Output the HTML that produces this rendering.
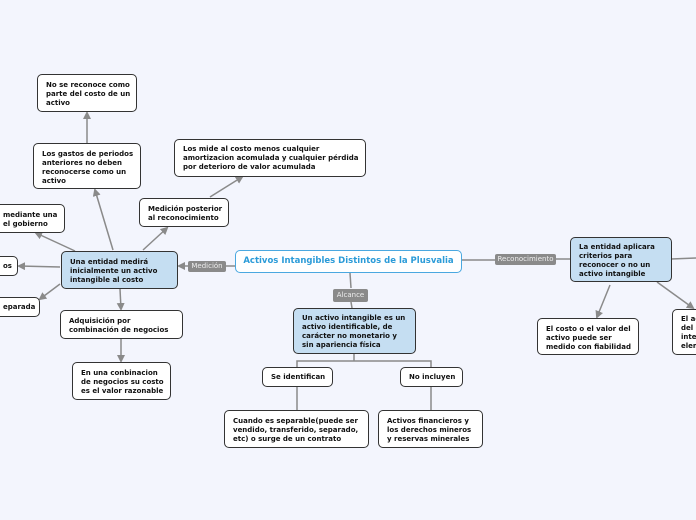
<!DOCTYPE html>
<html><head><meta charset="utf-8"><style>
body{margin:0;width:696px;height:520px;background:#f3f5fd;overflow:hidden;position:relative;font-family:"DejaVu Sans","Liberation Sans",sans-serif}
.n{position:absolute;box-sizing:border-box;background:#fff;border:1px solid #333;border-radius:5px;font-size:7px;font-weight:bold;line-height:9px;color:#111;padding:5px 8px;white-space:nowrap}
.b{background:#c5def2}
.l{position:absolute;background:#8a8a8a;color:#eee;font-size:7px;border-radius:2px;text-align:center;line-height:11px}
svg{position:absolute;left:0;top:0}
</style></head><body>
<svg width="696" height="520"><defs><marker id="a" markerWidth="8" markerHeight="8" refX="6" refY="4" orient="auto" markerUnits="userSpaceOnUse"><path d="M0,0L8,4L0,8z" fill="#8a8a8a"/></marker></defs>
<g stroke="#8a8a8a" stroke-width="1.5" fill="none">
<line x1="235" y1="266" x2="226" y2="266"/>
<line x1="188" y1="266" x2="179" y2="266" marker-end="url(#a)"/>
<line x1="113" y1="250" x2="95" y2="190" marker-end="url(#a)"/>
<line x1="87" y1="143" x2="87" y2="113" marker-end="url(#a)"/>
<line x1="75" y1="251" x2="36" y2="233" marker-end="url(#a)"/>
<line x1="60" y1="267" x2="19" y2="266" marker-end="url(#a)"/>
<line x1="60" y1="284" x2="40" y2="299" marker-end="url(#a)"/>
<line x1="120" y1="289" x2="121" y2="309" marker-end="url(#a)"/>
<line x1="121" y1="339" x2="121" y2="361" marker-end="url(#a)"/>
<line x1="143" y1="250" x2="167" y2="228" marker-end="url(#a)"/>
<line x1="210" y1="197" x2="242" y2="177" marker-end="url(#a)"/>
<line x1="350" y1="273" x2="351" y2="288"/>
<line x1="351" y1="302" x2="352" y2="308"/>
<polyline points="297,367 297,361 431,361 431,367"/>
<line x1="354" y1="354" x2="354" y2="361"/>
<line x1="297" y1="386" x2="297" y2="410"/>
<line x1="431" y1="386" x2="431" y2="410"/>
<line x1="461" y1="260" x2="495" y2="260"/>
<line x1="556" y1="259" x2="570" y2="259"/>
<line x1="610" y1="285" x2="597" y2="317" marker-end="url(#a)"/>
<line x1="657" y1="282" x2="693" y2="308" marker-end="url(#a)"/>
<line x1="671" y1="259" x2="696" y2="258"/>
</g></svg>
<div class="n" style="left:235px;top:250px;width:227px;height:23px;border-color:#4aa8e0;color:#2b9bd8;font-size:8.5px;text-align:center;padding:6px 0">Activos Intangibles Distintos de la Plusvalia</div>
<div class="l" style="left:188px;top:261px;width:38px">Medición</div>
<div class="l" style="left:333px;top:289px;width:35px;height:13px;line-height:13px">Alcance</div>
<div class="l" style="left:495px;top:254px;width:61px">Reconocimiento</div>
<div class="n b" style="left:61px;top:251px;width:117px;height:38px;padding-top:6px">Una entidad medirá<br>inicialmente un activo<br>intangible al costo</div>
<div class="n" style="left:-6px;top:204px;width:71px;height:29px;padding-top:6px">mediante una<br>el gobierno</div>
<div class="n" style="left:-6px;top:256px;width:24px;height:20px">os</div>
<div class="n" style="left:-6px;top:297px;width:46px;height:20px">eparada</div>
<div class="n" style="left:60px;top:310px;width:123px;height:29px;padding-top:6px">Adquisición por<br>combinación de negocios</div>
<div class="n" style="left:72px;top:362px;width:99px;height:38px;padding-top:6px">En una conbinacion<br>de negocios su costo<br>es el valor razonable</div>
<div class="n" style="left:33px;top:143px;width:108px;height:46px;padding-top:6px">Los gastos de periodos<br>anteriores no deben<br>reconocerse como un<br>activo</div>
<div class="n" style="left:37px;top:74px;width:100px;height:38px;padding-top:6px">No se reconoce como<br>parte del costo de un<br>activo</div>
<div class="n" style="left:139px;top:198px;width:90px;height:29px;padding-top:6px">Medición posterior<br>al reconocimiento</div>
<div class="n" style="left:174px;top:139px;width:192px;height:38px;padding-top:5px">Los mide al costo menos cualquier<br>amortizacion acomulada y cualquier pérdida<br>por deterioro de valor acumulada</div>
<div class="n b" style="left:293px;top:308px;width:123px;height:46px;padding-top:5px">Un activo intangible es un<br>activo identificable, de<br>carácter no monetario y<br>sin apariencia física</div>
<div class="n" style="left:262px;top:367px;width:71px;height:20px;text-align:center">Se identifican</div>
<div class="n" style="left:400px;top:367px;width:63px;height:20px;text-align:center">No incluyen</div>
<div class="n" style="left:224px;top:410px;width:145px;height:38px;padding-top:6px">Cuando es separable(puede ser<br>vendido, transferido, separado,<br>etc) o surge de un contrato</div>
<div class="n" style="left:378px;top:410px;width:105px;height:38px;padding-top:6px">Activos financieros y<br>los derechos mineros<br>y reservas minerales</div>
<div class="n b" style="left:570px;top:237px;width:102px;height:45px;padding-top:5px">La entidad aplicara<br>criterios para<br>reconocer o no un<br>activo intangible</div>
<div class="n" style="left:537px;top:318px;width:102px;height:37px;padding-top:6px">El costo o el valor del<br>activo puede ser<br>medido con fiabilidad</div>
<div class="n" style="left:672px;top:309px;width:40px;height:46px;padding-top:5px">El ac<br>del e<br>inter<br>elem</div>
</body></html>
